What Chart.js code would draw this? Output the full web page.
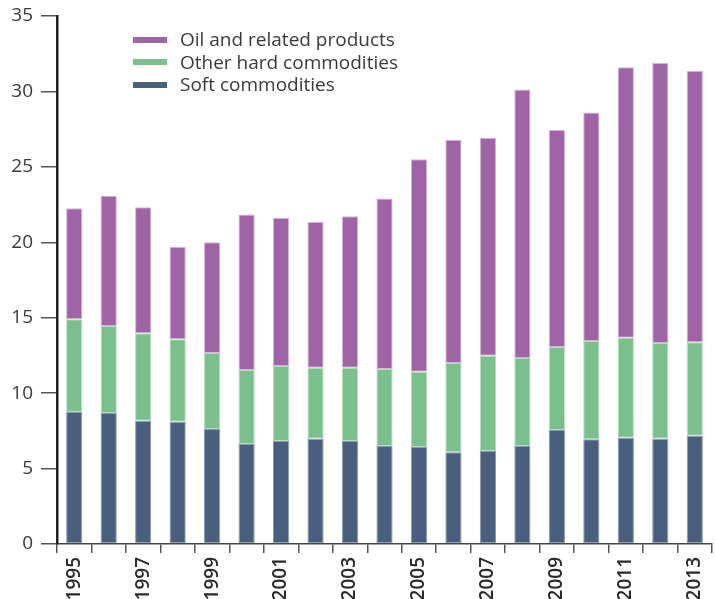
<!DOCTYPE html>
<html>
<head>
<meta charset="utf-8">
<script src="https://cdn.jsdelivr.net/npm/chart.js@4/dist/chart.umd.min.js"></script>
<style>
  html, body { margin: 0; padding: 0; background: #fff; }
  #wrap { position: relative; width: 715px; height: 599px; overflow: hidden; }
  #legend { position: absolute; left: 133px; top: 28px; font-family: "Open Sans", sans-serif; font-size: 19px; color: #3a3a3a; }
  #legend div { height: 22.5px; line-height: 22.5px; white-space: nowrap; }
  #legend span { display: inline-block; width: 34px; height: 6px; margin-right: 13px; vertical-align: middle; position: relative; top: -1px; }
</style>
</head>
<body>
<div id="wrap">
  <canvas id="chart" width="715" height="599"></canvas>
  <div id="legend"></div>
</div>
<script>
// Chart data (billion)
const years = ['1995', '1996', '1997', '1998', '1999', '2000', '2001', '2002', '2003', '2004',
    '2005', '2006', '2007', '2008', '2009', '2010', '2011', '2012', '2013'];
const softCommodities = [8.75, 8.68, 8.17, 8.11, 7.62, 6.63, 6.83, 6.98, 6.83, 6.50,
    6.43, 6.08, 6.17, 6.50, 7.56, 6.94, 7.05, 6.98, 7.18];
const otherHard = [6.14, 5.77, 5.80, 5.46, 5.04, 4.90, 4.97, 4.71, 4.86, 5.10,
    4.99, 5.92, 6.31, 5.83, 5.50, 6.52, 6.63, 6.34, 6.19];
const oilProducts = [7.36, 8.64, 8.35, 6.14, 7.34, 10.32, 9.83, 9.65, 10.03, 11.30,
    14.08, 14.78, 14.45, 17.79, 14.38, 15.15, 17.92, 18.56, 18.00];
const yTicks = [0, 5, 10, 15, 20, 25, 30, 35];

const seriesNames = ['Soft commodities', 'Other hard commodities', 'Oil and related products'];
const seriesColors = ['#4a5f7d', '#7bbf8c', '#9e64a5'];
const seriesBorders = ['#8a9ab0', '#b5dcbf', '#d4b4d8'];

const ctx = document.getElementById('chart').getContext('2d');
const chart = new Chart(ctx, {
    type: 'bar',
    data: {
        labels: years,
        datasets: [softCommodities, otherHard, oilProducts].map((vals, i) => ({
            label: seriesNames[i],
            data: vals,
            backgroundColor: seriesColors[i],
            borderColor: seriesBorders[i],
            borderWidth: 1,
            borderSkipped: false,
            categoryPercentage: 1,
            barPercentage: 0.47
        }))
    },
    options: {
        responsive: false,
        animation: false,
        layout: { padding: { top: 16, right: 3, left: 0, bottom: 0 } },
        plugins: { legend: { display: false }, tooltip: { enabled: false } },
        scales: {
            x: {
                stacked: true,
                offset: true,
                border: { color: '#444', width: 1.5 },
                grid: { offset: true, drawOnChartArea: false, color: '#555', lineWidth: 1.5, tickLength: 9 },
                ticks: {
                    autoSkip: false,
                    minRotation: 90,
                    maxRotation: 90,
                    padding: 4,
                    color: '#2a2a2a',
                    font: { family: 'Open Sans', size: 19, weight: '600' },
                    callback: function (value, index) {
                        return index % 2 === 0 ? years[index] : '';
                    }
                },
                afterFit: function (scale) {
                    scale.height = 55;
                    scale.paddingLeft = 0;
                    scale.paddingRight = 0;
                }
            },
            y: {
                stacked: true,
                min: 0,
                max: 35,
                border: { color: '#222', width: 2.5 },
                grid: { drawOnChartArea: false, color: '#555', lineWidth: 1.5, tickLength: 16 },
                afterBuildTicks: function (scale) {
                    scale.ticks = yTicks.map(v => ({ value: v }));
                },
                ticks: {
                    padding: 8,
                    color: '#3a3a3a',
                    font: { family: 'Open Sans', size: 19 }
                },
                afterFit: function (scale) {
                    scale.width = 57;
                    scale.paddingTop = 0;
                    scale.paddingBottom = 0;
                }
            }
        }
    }
});

// Legend, top to bottom: oil, other hard, soft
const legend = document.getElementById('legend');
[2, 1, 0].forEach(i => {
    const row = document.createElement('div');
    row.innerHTML = '<span style="background:' + seriesColors[i] + '"></span>' + seriesNames[i];
    legend.appendChild(row);
});
</script>
</body>
</html>
